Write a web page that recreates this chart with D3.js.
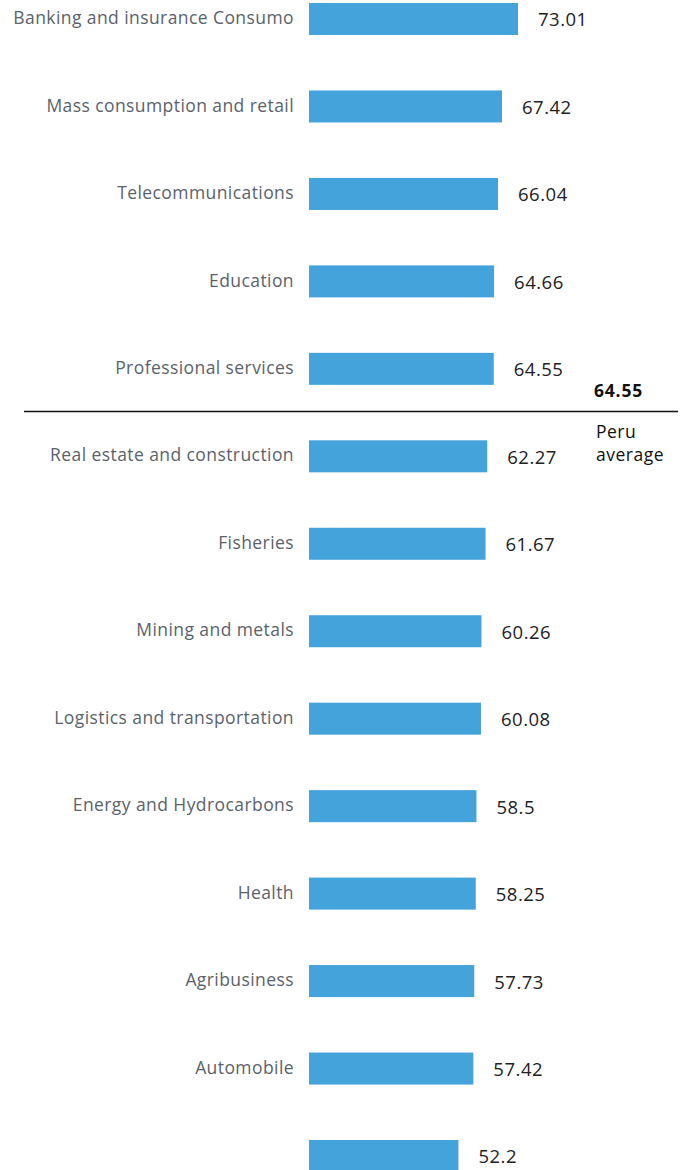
<!DOCTYPE html>
<html>
<head>
<meta charset="utf-8">
<script src="https://cdn.jsdelivr.net/npm/d3@7"></script>
<style>
  body { margin: 0; background: #fff; }
  svg { display: block; }
</style>
</head>
<body>
<svg id="chart"></svg>
<script>
const categories = [
    "Banking and insurance Consumo",
    "Mass consumption and retail",
    "Telecommunications",
    "Education",
    "Professional services",
    "Real estate and construction",
    "Fisheries",
    "Mining and metals",
    "Logistics and transportation",
    "Energy and Hydrocarbons",
    "Health",
    "Agribusiness",
    "Automobile",
    ""
]
const values = [73.01, 67.42, 66.04, 64.66, 64.55, 62.27, 61.67, 60.26, 60.08, 58.5, 58.25, 57.73, 57.42, 52.2]
const averageValue = 64.55
const averageLabel = ["Peru", "average"]
const averageAfter = "Professional services"

const width = 680
const height = 1170

const data = categories.map((c, i) => ({ cat: c, value: values[i] }))

const svg = d3.select("#chart")
    .attr("width", width)
    .attr("height", height)

const x = d3.scaleLinear()
    .domain([0, 73.01])
    .range([309, 518])

const y = d3.scaleBand()
    .domain(categories)
    .range([3, 1172])
    .paddingInner(0.634)
    .paddingOuter(0)

// bars
svg.append("g")
    .selectAll("rect")
    .data(data)
    .join("rect")
    .attr("x", x(0))
    .attr("y", d => y(d.cat))
    .attr("width", d => x(d.value) - x(0))
    .attr("height", y.bandwidth())
    .attr("fill", "#44a3da")

// category labels
svg.append("g")
    .selectAll("text")
    .data(data)
    .join("text")
    .attr("x", x(0) - 15)
    .attr("y", d => y(d.cat) + y.bandwidth() / 2 - 1)
    .attr("dy", "0.35em")
    .attr("text-anchor", "end")
    .attr("font-family", "'Open Sans', sans-serif")
    .attr("font-size", 17.5)
    .attr("letter-spacing", 0.42)
    .attr("fill", "#5b626b")
    .text(d => d.cat)

// value labels
svg.append("g")
    .selectAll("text")
    .data(data)
    .join("text")
    .attr("x", d => x(d.value) + 20)
    .attr("y", d => y(d.cat) + y.bandwidth() / 2 + 1)
    .attr("dy", "0.35em")
    .attr("font-family", "'Open Sans', sans-serif")
    .attr("font-size", 18.5)
    .attr("letter-spacing", 0.5)
    .attr("fill", "#222")
    .text(d => d.value)

// average line
const lineY = y(averageAfter) + y.bandwidth() + (y.step() - y.bandwidth()) / 2 - 1
svg.append("line")
    .attr("x1", 24)
    .attr("x2", 678)
    .attr("y1", lineY)
    .attr("y2", lineY)
    .attr("stroke", "#111")
    .attr("stroke-width", 1.5)

svg.append("text")
    .attr("x", 594)
    .attr("y", lineY - 15)
    .attr("font-family", "'Open Sans', sans-serif")
    .attr("font-size", 17.5)
    .attr("letter-spacing", 0.8)
    .attr("font-weight", "bold")
    .attr("fill", "#111")
    .text(averageValue.toFixed(2))

svg.append("text")
    .attr("font-family", "'Open Sans', sans-serif")
    .attr("font-size", 17.5)
    .attr("letter-spacing", 0.5)
    .attr("fill", "#111")
    .selectAll("tspan")
    .data(averageLabel)
    .join("tspan")
    .attr("x", 596)
    .attr("y", (d, i) => lineY + 26 + i * 23)
    .text(d => d)
</script>
</body>
</html>
